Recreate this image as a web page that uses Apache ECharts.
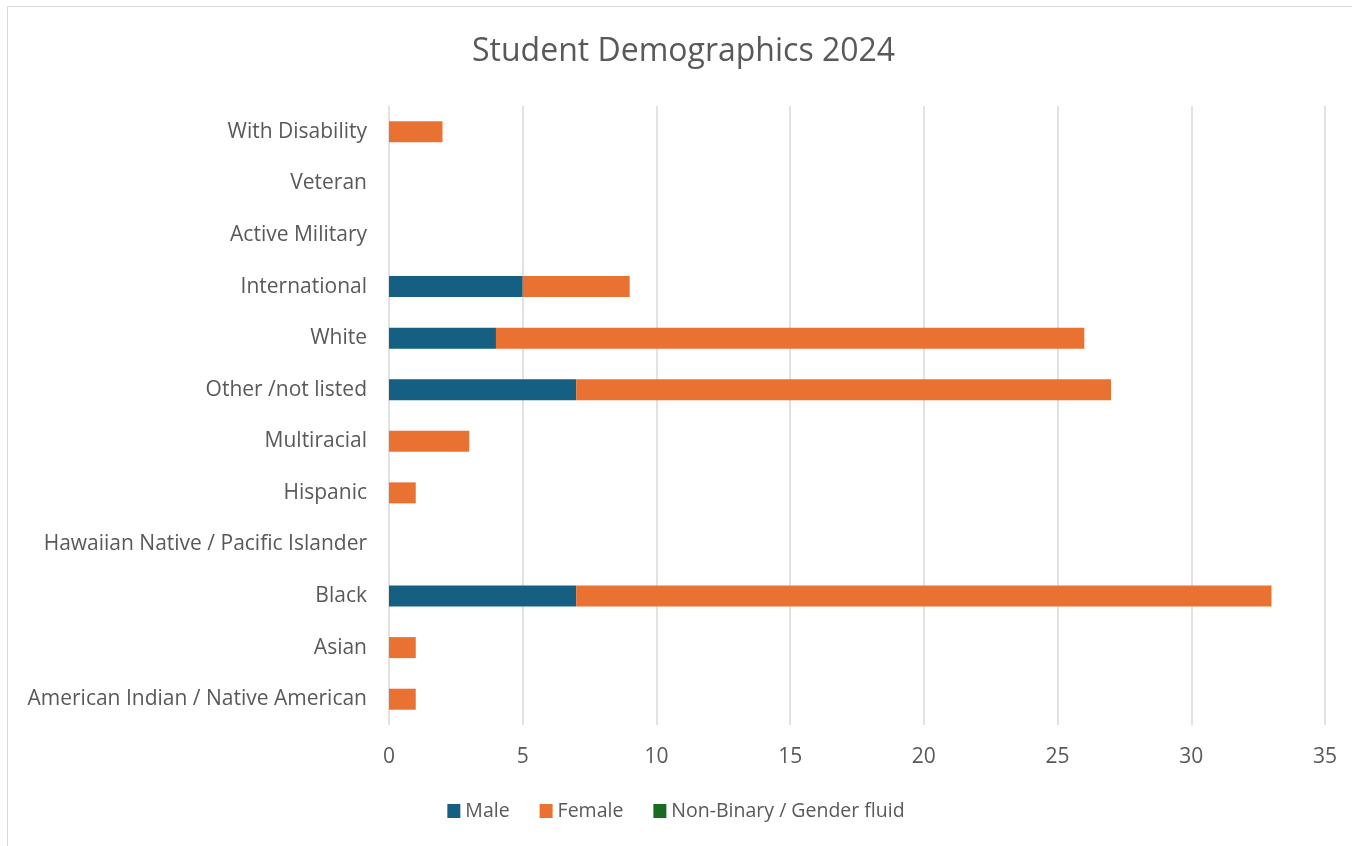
<!DOCTYPE html>
<html><head><meta charset="utf-8">
<script src="https://cdn.jsdelivr.net/npm/echarts@6/dist/echarts.min.js"></script>
<style>html,body{margin:0;padding:0;background:#fff;}#c{width:1352px;height:846px;}
#frame{position:absolute;left:7px;top:6px;width:1400px;height:900px;border:1.5px solid #d9d9d9;pointer-events:none;}</style>
</head><body><div id="c"></div><div id="frame"></div>
<script>
const categories = ["American Indian / Native American","Asian","Black","Hawaiian Native / Pacific Islander","Hispanic","Multiracial","Other /not listed","White","International","Active Military","Veteran","With Disability"];
const male = [0,0,7,0,0,0,7,4,5,0,0,0];
const female = [1,1,26,0,1,3,20,22,4,0,0,2];
const nonBinary = [0,0,0,0,0,0,0,0,0,0,0,0];
const xTicks = {min:0,max:35,interval:5};
const FONT = "'Open Sans', sans-serif";
const chart = echarts.init(document.getElementById('c'));
chart.setOption({
  animation:false,
  title:{text:'Student Demographics 2024',left:467,top:31,textStyle:{fontFamily:FONT,fontSize:32,fontWeight:'normal',color:'#595959'}},
  grid:{left:389,right:27,top:106,bottom:121,containLabel:false},
  legend:{top:796,left:'center',itemWidth:13,itemHeight:14,itemGap:30,icon:'rect',textStyle:{fontFamily:FONT,fontSize:19.5,color:'#595959'},data:['Male','Female','Non-Binary / Gender fluid']},
  xAxis:{type:'value',min:xTicks.min,max:xTicks.max,interval:xTicks.interval,
    axisLine:{show:false},axisTick:{show:false},
    splitLine:{lineStyle:{color:'#d9d9d9',width:1.5}},
    axisLabel:{fontFamily:FONT,fontSize:21,color:'#595959',margin:22}},
  yAxis:{type:'category',data:categories,axisLine:{show:false},axisTick:{show:false},
    axisLabel:{fontFamily:FONT,fontSize:21,color:'#595959',margin:22}},
  series:[
    {name:'Male',type:'bar',stack:'t',data:male,barWidth:21,itemStyle:{color:'#156082'}},
    {name:'Female',type:'bar',stack:'t',data:female,barWidth:21,itemStyle:{color:'#E97132'}},
    {name:'Non-Binary / Gender fluid',type:'bar',stack:'t',data:nonBinary,barWidth:21,itemStyle:{color:'#196B24'}}
  ]
});
</script></body></html>
